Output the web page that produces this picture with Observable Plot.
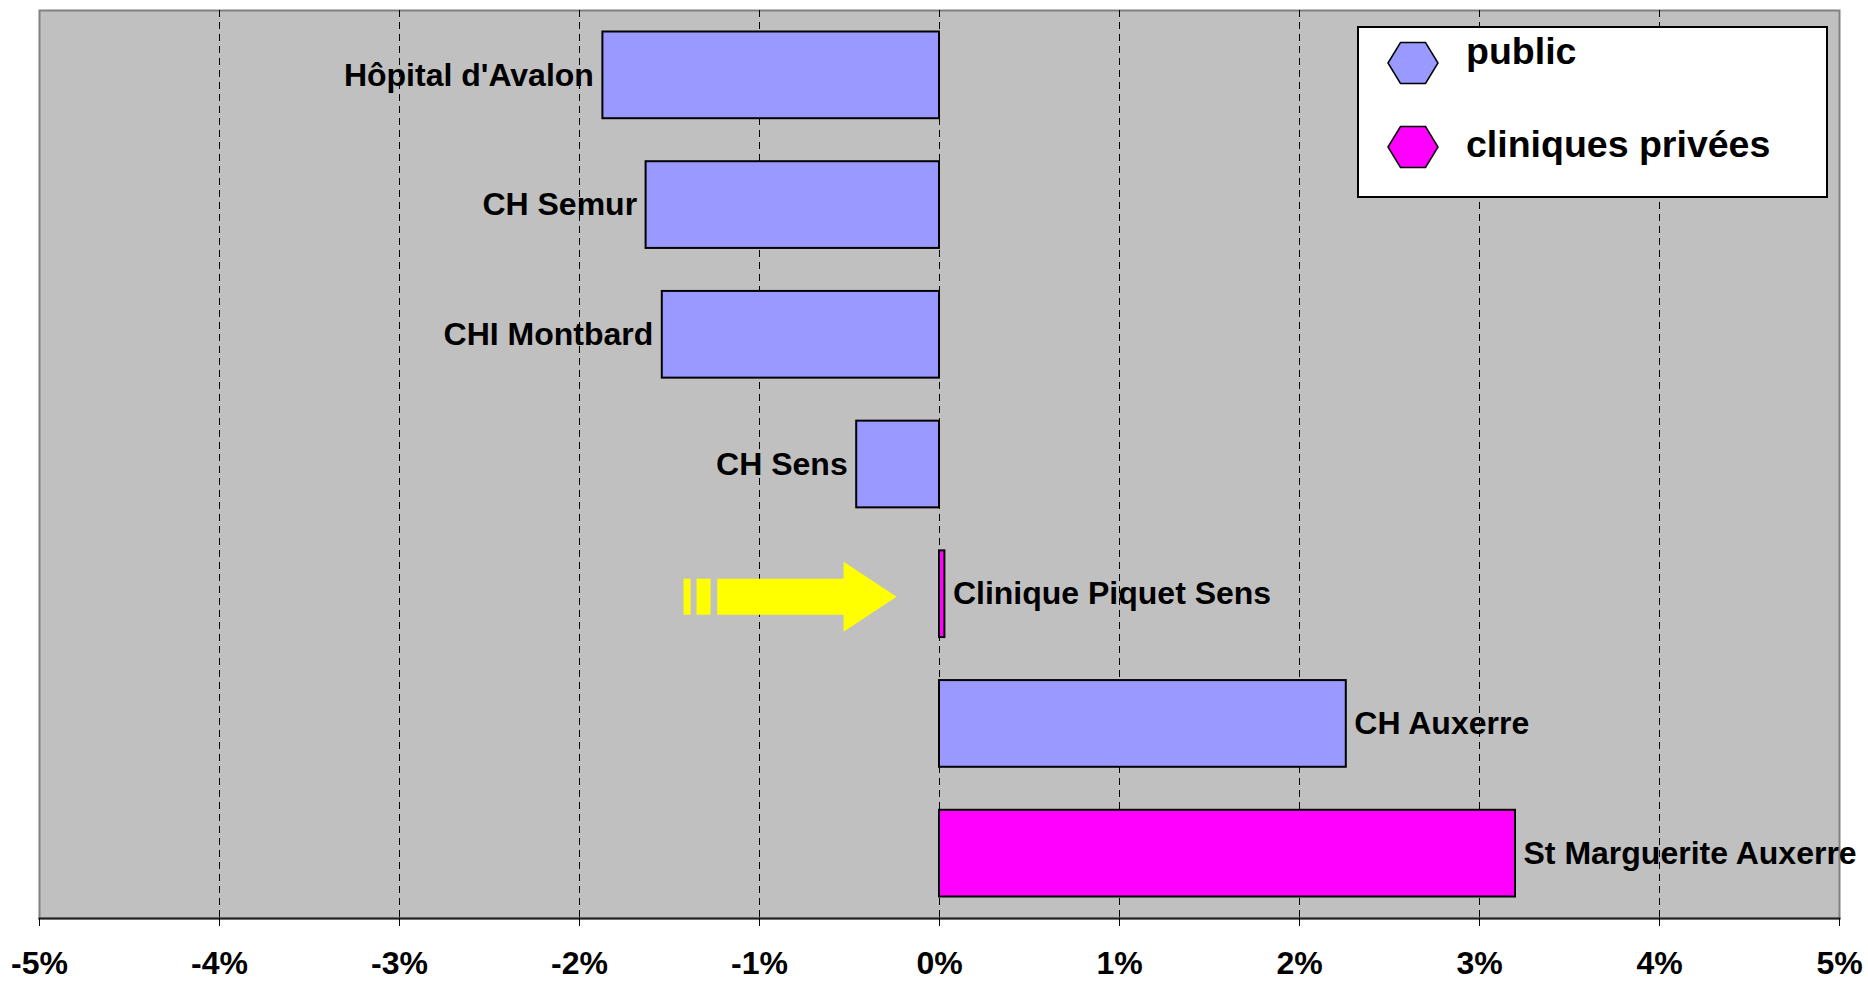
<!DOCTYPE html>
<html><head><meta charset="utf-8">
<script src="https://cdn.jsdelivr.net/npm/d3@7"></script>
<script src="https://cdn.jsdelivr.net/npm/@observablehq/plot@0.6"></script>
<style>
html,body{margin:0;padding:0;background:#fff;overflow:hidden;}
#chart svg{display:block;}
</style>
</head><body><div id="chart"></div>
<script>
// ---- data ----
const establishments = ["Hôpital d'Avalon", "CH Semur", "CHI Montbard", "CH Sens", "Clinique Piquet Sens", "CH Auxerre", "St Marguerite Auxerre"];
const values = [-1.87, -1.63, -1.54, -0.46, 0.03, 2.26, 3.20];
const sectors = ["public", "public", "public", "public", "cliniques privées", "public", "cliniques privées"];
const sectorNames = ["public", "cliniques privées"];
const sectorColors = ["#9999FF", "#FF00FF"];
const xTicks = [-5, -4, -3, -2, -1, 0, 1, 2, 3, 4, 5];
const gridTicks = [-4, -3, -2, -1, 0, 1, 2, 3, 4];
// yellow arrow annotation (x in %)
const arrowRow = "Clinique Piquet Sens";
const arrowStripes = [[-1.419, -1.380], [-1.347, -1.269]];
const arrowShaft = [-1.232, -0.530];
const arrowTip = -0.236;

const data = establishments.map((name, i) => ({name, value: values[i], sector: sectors[i]}));
const FONT = "'Liberation Sans', Arial, Helvetica, sans-serif";

function arrowMark(index, scales) {
  const x = scales.x, y = scales.y;
  const bw = y.bandwidth ? y.bandwidth() : 0;
  const cy = y(arrowRow) + bw / 2 + 3;
  const sh = 18, hh = 35;
  const g = d3.create("svg:g").attr("fill", "#FFFF00");
  for (const [a, b] of arrowStripes) {
    g.append("rect").attr("x", x(a)).attr("y", cy - sh).attr("width", x(b) - x(a)).attr("height", 2 * sh);
  }
  const pts = [
    [x(arrowShaft[0]), cy - sh], [x(arrowShaft[1]), cy - sh], [x(arrowShaft[1]), cy - hh],
    [x(arrowTip), cy], [x(arrowShaft[1]), cy + hh], [x(arrowShaft[1]), cy + sh], [x(arrowShaft[0]), cy + sh]
  ];
  g.append("polygon").attr("points", pts.map(p => p.join(",")).join(" "));
  return g.node();
}

function legendMark(index, scales, values, dims) {
  const right = dims.width - dims.marginRight - 12;
  const bx = right - 469, by = dims.marginTop + 17, bwid = 469, bh = 170;
  const g = d3.create("svg:g");
  g.append("rect").attr("x", bx).attr("y", by).attr("width", bwid).attr("height", bh)
    .attr("fill", "white").attr("stroke", "black").attr("stroke-width", 2);
  const rows = [by + 36, by + 120];
  const baselines = [by + 37, by + 130];
  sectorNames.forEach((name, i) => {
    const cx = bx + 55, cy = rows[i];
    const w = 25, h = 20.5, t = 12.5;
    const pts = [[cx - w, cy], [cx - t, cy - h], [cx + t, cy - h], [cx + w, cy], [cx + t, cy + h], [cx - t, cy + h]];
    g.append("polygon").attr("points", pts.map(p => p.join(",")).join(" "))
      .attr("fill", sectorColors[i]).attr("stroke", "black").attr("stroke-width", 1.5);
    g.append("text").attr("x", bx + 108).attr("y", baselines[i])
      .attr("text-anchor", "start")
      .attr("font-family", FONT).attr("font-weight", "bold").attr("font-size", 37.5)
      .attr("fill", "black").text(name);
  });
  return g.node();
}

const chart = Plot.plot({
  width: 1868,
  height: 981,
  marginTop: 10,
  marginBottom: 63,
  marginLeft: 39,
  marginRight: 29,
  style: {fontFamily: FONT, fontWeight: "bold", fontSize: "32px", background: "white", color: "black"},
  x: {domain: [-5, 5], axis: null, label: null},
  y: {domain: establishments, padding: 0, round: false, axis: null, label: null},
  color: {domain: sectorNames, range: sectorColors},
  marks: [
    Plot.frame({fill: "#C0C0C0", stroke: "#808080", strokeWidth: 2}),
    Plot.ruleX(gridTicks, {stroke: "black", strokeWidth: 1, strokeDasharray: "7,5"}),
    Plot.frame({anchor: "bottom", stroke: "#222", strokeWidth: 2}),
    Plot.barX(data, {x: "value", y: "name", fill: "sector", stroke: "black", strokeWidth: 2, insetTop: 21.5, insetBottom: 21.5}),
    Plot.text(data.filter(d => d.value < 0), {x: "value", y: "name", text: "name", textAnchor: "end", dx: -9, fontSize: 32, fontWeight: "bold", fill: "black"}),
    Plot.text(data.filter(d => d.value >= 0), {x: "value", y: "name", text: "name", textAnchor: "start", dx: 8, fontSize: 32, fontWeight: "bold", fill: "black"}),
    arrowMark,
    Plot.axisX({ticks: xTicks, tickFormat: d => `${d}%`, tickSize: 8, tickPadding: 25, fontSize: 32, fontWeight: "bold", stroke: "black", fill: "black", label: null}),
    legendMark
  ]
});
document.getElementById("chart").appendChild(chart);
</script>
</body></html>
